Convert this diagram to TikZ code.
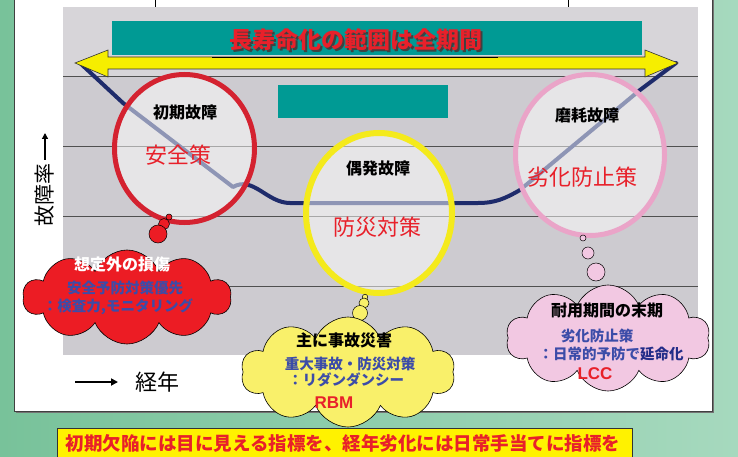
\documentclass[tikz,border=0pt]{standalone}
\usepackage{fontspec}
\newfontfamily\jp{Noto Sans CJK JP}
\newfontfamily\lsans{Liberation Sans}
\usetikzlibrary{shapes.symbols,shapes.geometric,arrows.meta}
\definecolor{bgL}{HTML}{78C29A}
\definecolor{bgR}{HTML}{A6D9BE}
\definecolor{plotgray}{HTML}{CDCBD0}
\definecolor{plottop}{HTML}{D7D5D9}
\definecolor{gridc}{HTML}{505050}
\definecolor{tealc}{HTML}{009A94}
\definecolor{arrowy}{HTML}{F6EE00}
\definecolor{navy}{HTML}{1E2B6B}
\definecolor{cred}{HTML}{D42230}
\definecolor{cyel}{HTML}{F4EA1C}
\definecolor{cpink}{HTML}{EAA4C8}
\definecolor{kred}{HTML}{EC1C24}
\definecolor{kyel}{HTML}{F9F06A}
\definecolor{kpink}{HTML}{F2C8E2}
\definecolor{tblue}{HTML}{3C4CA8}
\definecolor{tnavy}{HTML}{222C88}
\definecolor{tred}{HTML}{E8202A}
\definecolor{bannery}{HTML}{FFF200}
\tikzset{
  ring/.style={ellipse, inner sep=0, fill=white, fill opacity=0.5},
  phase/.style={font=\jp\bfseries\fontsize{16}{16}\selectfont, text=black},
  measure/.style={font=\jp\fontsize{22}{22}\selectfont, text=tred},
  puff/.style={cloud, draw=black, line width=0.6, cloud puffs=10, cloud puff arc=135, cloud ignores aspect, inner sep=0},
  bub/.style={circle, draw=black, line width=0.5, inner sep=0},
  chead/.style={font=\jp\bfseries\fontsize{16}{16}\selectfont},
  cbody/.style={font=\jp\bfseries\fontsize{14.5}{14.5}\selectfont, text=tblue},
  cabbr/.style={font=\lsans\bfseries\fontsize{17}{17}\selectfont, text=tred},
}
\begin{document}
\begin{tikzpicture}[x=1pt,y=-1pt]
\useasboundingbox (0,0) rectangle (738,457);
% background
\shade[left color=bgL,right color=bgR] (0,0) rectangle (738,457);
% white panel
\fill[black!55] (16,0) rectangle (714,413);
\filldraw[fill=white,draw=black!75,line width=1] (14,-2) rectangle (712,411);
% title box (text cut off)
\filldraw[fill=white,draw=black,line width=0.8] (155,-2) rectangle (568,10);
% plot area
\fill[plotgray] (63,7) rectangle (698,355);
\fill[plottop] (63,7) rectangle (698,76);
\foreach \yy in {76,146,216,286} \draw[gridc,line width=0.8] (63,\yy) -- (698,\yy);
% teal boxes
\node[fill=tealc, minimum width=530, minimum height=34, inner sep=0] (banner) at (377,38) {};
\node[fill=tealc, minimum width=170, minimum height=33, inner sep=0] (tealbox) at (363,101.5) {};
% bathtub curve
\coordinate (p0) at (80,63);
\draw[navy, line width=4, line join=round, line cap=round]
  (p0) -- (123,103) -- (233,187) to[out=30,in=180] (290,203) -- (478,203) to[out=0,in=210] (520,190) -- (640,90) -- (676,63);
% long yellow double arrow
\draw[fill=arrowy, draw=black!80, line width=0.6]
  (75,63) -- (108,50) -- (108,57) -- (645,57) -- (645,50) -- (678,63) -- (645,77) -- (645,69) -- (108,69) -- (108,77) -- cycle;
\draw[black, line width=1.8] (212,57.5) -- (498,57.5);
% banner text with shadow
\node[font=\jp\bfseries\fontsize{23}{23}\selectfont, text=black!75] at (357.5,41.5) {長寿命化の範囲は全期間};
\node[font=\jp\bfseries\fontsize{23}{23}\selectfont, text=tred] (bannertext) at (356,40) {長寿命化の範囲は全期間};
% circles
\node[ring, minimum width=140, minimum height=148] (early) at (184.5,148.5) {};
\draw[cred, line width=5] (early.center) ellipse [x radius=70, y radius=74];
\node[ring, minimum width=146, minimum height=160] (random) at (379,213) {};
\draw[cyel, line width=6] (random.center) ellipse [x radius=73, y radius=80];
\node[ring, minimum width=149, minimum height=161] (wear) at (590,155) {};
\draw[cpink, line width=5] (wear.center) ellipse [x radius=74.5, y radius=80.5];
% circle labels
\node[phase] (earlyT) at (185,112) {初期故障};
\node[measure] (earlyM) at (178,155) {安全策};
\node[phase] (randomT) at (378,168) {偶発故障};
\node[measure] (randomM) at (377,227) {防災対策};
\node[phase] (wearT) at (587,115) {磨耗故障};
\node[measure] (wearM) at (582,177) {劣化防止策};
% red cloud
\node[bub, fill=kred, minimum size=6] (rb1) at (169,217) {};
\node[bub, fill=kred, minimum size=11] (rb2) at (164,224) {};
\node[bub, fill=kred, minimum size=18] (rb3) at (158,234) {};
\node[puff, fill=kred, minimum width=208, minimum height=94] (redcloud) at (127,297) {};
\node[chead, text=white] (rc1) at (122,264) {想定外の損傷};
\node[cbody] (rc2) at (125,288) {安全予防対策優先};
\node[cbody] (rc3) at (118,307) {：検査力,モニタリング};
% yellow cloud
\node[bub, fill=kyel, minimum size=5.5] (yb1) at (365,297) {};
\node[bub, fill=kyel, minimum size=10] (yb2) at (364,303) {};
\node[bub, fill=kyel, minimum size=15] (yb3) at (360,313) {};
\node[puff, fill=kyel, minimum width=214, minimum height=110] (yelcloud) at (348,372) {};
\node[chead, text=black] (yc1) at (344,340) {主に事故災害};
\node[cbody] (yc2) at (350,364) {重大事故・防災対策};
\node[cbody] (yc3) at (346,380) {：リダンダンシー};
\node[cabbr] (yc4) at (334,403) {RBM};
% pink cloud
\node[bub, fill=kpink, minimum size=6] (pb1) at (583,238) {};
\node[bub, fill=kpink, minimum size=12] (pb2) at (588,253) {};
\node[bub, fill=kpink, minimum size=18] (pb3) at (596,272) {};
\node[puff, fill=kpink, minimum width=204, minimum height=106] (pinkcloud) at (608,338) {};
\node[chead, text=black] (pc1) at (607,310) {耐用期間の末期};
\node[cbody] (pc2) at (597,336) {劣化防止策};
\node[cbody] (pc3) at (611,354) {：日常的予防で\textcolor{tnavy}{延命化}};
\node[cabbr] (pc4) at (595,374) {LCC};
% axis labels
\node[font=\jp\fontsize{21}{21}\selectfont, rotate=90] (ylab) at (45,195) {故障率};
\coordinate (ya) at (45,160);
\coordinate (yb) at (45,133);
\draw[line width=1.3, -{Triangle[length=6,width=6]}] (ya) -- (yb);
\coordinate (xa) at (75,382);
\coordinate (xb) at (118,382);
\draw[line width=1.8, -{Triangle[length=7,width=7]}] (xa) -- (xb);
\node[font=\jp\fontsize{22}{22}\selectfont] (xlab) at (157,382) {経年};
% bottom banner
\fill[bannery, draw=black!80, line width=0.8] (57,428) rectangle (632,470);
\node[font=\jp\bfseries\fontsize{18.5}{18.5}\selectfont, text=tred] (bottomtext) at (343,443) {初期欠陥には目に見える指標を、経年劣化には日常手当てに指標を};
\end{tikzpicture}
\end{document}
